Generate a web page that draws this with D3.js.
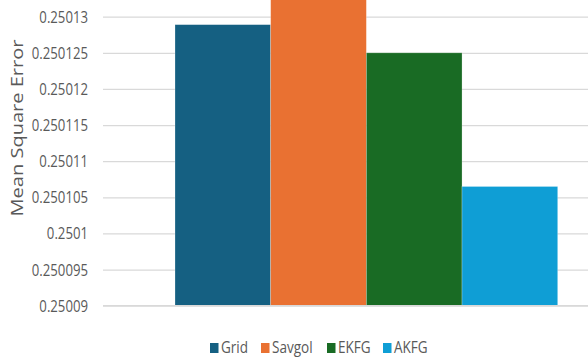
<!DOCTYPE html>
<html>
<head>
<meta charset="utf-8">
<script src="https://cdn.jsdelivr.net/npm/d3@7"></script>
<style>
  html, body { margin: 0; padding: 0; background: #fff; }
  svg { display: block; }
</style>
</head>
<body>
<svg id="chart" width="588" height="358"></svg>
<script>
// Mean square error per method
const methods = ["Grid", "Savgol", "EKFG", "AKFG"];
const mseValues = [0.2501289, 0.250135, 0.250125, 0.2501065];
const colors = ["#156082", "#E97132", "#196B24", "#0F9ED5"];
const yTicks = [0.25009, 0.250095, 0.2501, 0.250105, 0.25011, 0.250115, 0.25012, 0.250125, 0.25013];
const yTickLabels = ["0.25009", "0.250095", "0.2501", "0.250105", "0.25011", "0.250115", "0.25012", "0.250125", "0.25013"];

const svg = d3.select("#chart");
const W = 588, H = 358;
const font = "'Open Sans', 'Liberation Sans', sans-serif";
const textColor = "#595959";

const y = d3.scaleLinear().domain([0.25009, 0.25013]).range([305.7, 16.7]);
const x = d3.scaleBand().domain(methods).range([175, 557.7]).paddingInner(0).paddingOuter(0);

// condense a text element horizontally while keeping it as real text
function condense(sel, factor) {
  sel.each(function () {
    const len = this.getComputedTextLength();
    d3.select(this).attr("textLength", len * factor).attr("lengthAdjust", "spacingAndGlyphs");
  });
}

// gridlines
const grid = d3.axisLeft(y).tickValues(yTicks).tickSize(-(W - 103)).tickFormat("");
svg.append("g")
  .attr("transform", "translate(103,0)")
  .call(grid)
  .call(g => g.select(".domain").remove())
  .call(g => g.selectAll("line").attr("stroke", "#D9D9D9").attr("stroke-width", 1.3));

// tick labels
const labelAxis = d3.axisLeft(y).tickValues(yTicks).tickSize(0).tickPadding(0)
  .tickFormat((d, i) => yTickLabels[i]);
svg.append("g")
  .attr("transform", "translate(88,0)")
  .call(labelAxis)
  .call(g => g.select(".domain").remove())
  .call(g => g.selectAll("text")
    .attr("fill", textColor)
    .attr("font-family", font)
    .attr("font-size", 15.5)
    .attr("dy", "0.35em")
    .call(condense, 0.85));

// bars
svg.append("g").selectAll("rect.bar")
  .data(methods)
  .join("rect")
  .attr("class", "bar")
  .attr("x", d => x(d))
  .attr("width", x.bandwidth())
  .attr("y", (d, i) => y(mseValues[i]))
  .attr("height", (d, i) => y(0.25009) - y(mseValues[i]))
  .attr("fill", (d, i) => colors[i])
  .attr("stroke", "#ffffff")
  .attr("stroke-opacity", 0.35)
  .attr("stroke-width", 0.7);

// baseline
svg.append("line")
  .attr("x1", 103).attr("x2", W)
  .attr("y1", y(0.25009)).attr("y2", y(0.25009))
  .attr("stroke", "#D9D9D9").attr("stroke-width", 1.3);

// y-axis title
svg.append("text")
  .attr("transform", "translate(23,128) rotate(-90)")
  .attr("text-anchor", "middle")
  .attr("fill", textColor)
  .attr("font-family", font)
  .attr("font-size", 17)
  .attr("textLength", 177)
  .attr("lengthAdjust", "spacingAndGlyphs")
  .text("Mean Square Error");

// legend
const legendX = [210, 261, 327, 383];
const legend = svg.append("g");
methods.forEach((m, i) => {
  legend.append("rect")
    .attr("x", legendX[i]).attr("y", 343)
    .attr("width", 8.5).attr("height", 10)
    .attr("fill", colors[i]);
  legend.append("text")
    .attr("x", legendX[i] + 11).attr("y", 353)
    .attr("fill", textColor)
    .attr("font-family", font)
    .attr("font-size", 16.5)
    .text(m)
    .call(condense, 0.82);
});
</script>
</body>
</html>
